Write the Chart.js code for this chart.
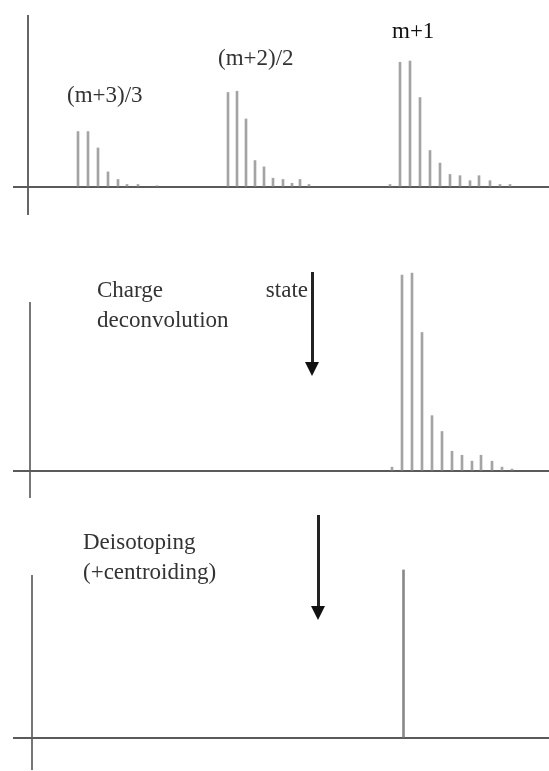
<!DOCTYPE html>
<html>
<head>
<meta charset="utf-8">
<script src="https://cdn.jsdelivr.net/npm/chart.js@4.4.1/dist/chart.umd.min.js"></script>
<style>
  body { margin: 0; background: #fff; }
  #page { position: relative; width: 549px; height: 771px; overflow: hidden; background: #fff; }
  canvas { position: absolute; left: 0; }
  .label {
    position: absolute;
    font-family: "Liberation Serif", "DejaVu Serif", serif;
    font-size: 23px;
    line-height: 30px;
    color: #333;
    white-space: nowrap;
  }
  .arrow { position: absolute; width: 3px; background: #222; }
  .arrow::after {
    content: "";
    position: absolute;
    left: -6px;
    bottom: -14px;
    border-left: 7.5px solid transparent;
    border-right: 7.5px solid transparent;
    border-top: 14px solid #111;
  }
</style>
</head>
<body>
<div id="page">
  <canvas id="raw-chart" width="549" height="230" style="top:0"></canvas>
  <canvas id="deconv-chart" width="549" height="260" style="top:255px"></canvas>
  <canvas id="centroid-chart" width="549" height="266" style="top:505px"></canvas>

  <div class="label" style="left:67px; top:80px">(m+3)/3</div>
  <div class="label" style="left:218px; top:43px">(m+2)/2</div>
  <div class="label" style="left:392px; top:16px; color:#111">m+1</div>

  <div class="label" style="left:97px; top:275px; width:211px; white-space:normal; text-align:justify">Charge state deconvolution</div>
  <div class="arrow" style="left:311px; top:272px; height:90px"></div>

  <div class="label" style="left:83px; top:527px">Deisotoping<br>(+centroiding)</div>
  <div class="arrow" style="left:317px; top:515px; height:91px"></div>
</div>

<script>
// peak positions (m/z, arbitrary units, 0 = y axis) and relative intensities (%)
const mzTriple = [50, 60, 70, 80, 90, 99, 110, 129];
const intTriple = [44, 44, 31, 12, 6, 2, 2, 1];

const mzDouble = [200, 209, 218, 227, 236, 245, 255, 264, 272, 281];
const intDouble = [75, 76, 54, 21, 16, 7, 6, 3, 6, 2];

const mzSingle = [362, 372, 382, 392, 402, 412, 422, 432, 442, 451, 462, 472, 482];
const intSingle = [2, 99, 100, 71, 29, 19, 10, 9, 5, 9, 5, 2, 2];

// after charge state deconvolution everything sits on the singly charged envelope
const intDeconv = [2, 99, 100, 70, 28, 20, 10, 8, 5, 8, 5, 2, 1];

// after deisotoping + centroiding: one monoisotopic peak
const mzCentroid = [372];
const intCentroid = [100];

const peakColor = "#a4a4a4";

const toPoints = (mz, intensity) => mz.map((x, i) => ({ x: x, y: intensity[i] }));

const peakSet = (label, mz, intensity, color) => ({
  label: label,
  data: toPoints(mz, intensity),
  backgroundColor: color || peakColor,
  borderWidth: 0,
  barThickness: 2,
  grouped: false,
  clip: false,
});

// only keep a tick at 0 so the single grid line acts as the axis
const onlyZero = (axis) => {
  axis.ticks = [{ value: 0 }];
};

const makeOptions = (xRange, yRange, pad, axisColor) => ({
  responsive: false,
  devicePixelRatio: 1,
  animation: false,
  events: [],
  layout: { padding: pad },
  plugins: {
    legend: { display: false },
    tooltip: { enabled: false },
  },
  scales: {
    x: {
      type: "linear",
      min: xRange[0],
      max: xRange[1],
      offset: false,
      afterBuildTicks: onlyZero,
      ticks: { display: false },
      border: { display: false },
      grid: { color: axisColor, lineWidth: 2, drawTicks: false, offset: false },
    },
    y: {
      min: yRange[0],
      max: yRange[1],
      afterBuildTicks: onlyZero,
      ticks: { display: false },
      border: { display: false },
      grid: { color: "#5a5a5a", lineWidth: 2, drawTicks: false },
    },
  },
});

const rawChart = new Chart(document.getElementById("raw-chart"), {
  type: "bar",
  data: {
    datasets: [
      peakSet("(m+3)/3", mzTriple, intTriple),
      peakSet("(m+2)/2", mzDouble, intDouble),
      peakSet("m+1", mzSingle, intSingle),
    ],
  },
  options: makeOptions([-15, 521], [-22.2, 136.5], { left: 13, right: 0, top: 15, bottom: 15 }, "#666"),
});

const deconvChart = new Chart(document.getElementById("deconv-chart"), {
  type: "bar",
  data: {
    datasets: [peakSet("deconvoluted", mzSingle, intDeconv)],
  },
  options: makeOptions([-17, 519], [-13.6, 85.4], { left: 13, right: 0, top: 47, bottom: 17 }, "#777"),
});

const centroidChart = new Chart(document.getElementById("centroid-chart"), {
  type: "bar",
  data: {
    datasets: [peakSet("centroided", mzCentroid, intCentroid, "#8a8a8a")],
  },
  options: makeOptions([-18.5, 517.5], [-19, 97], { left: 13, right: 0, top: 70, bottom: 1 }, "#777"),
});
</script>
</body>
</html>
